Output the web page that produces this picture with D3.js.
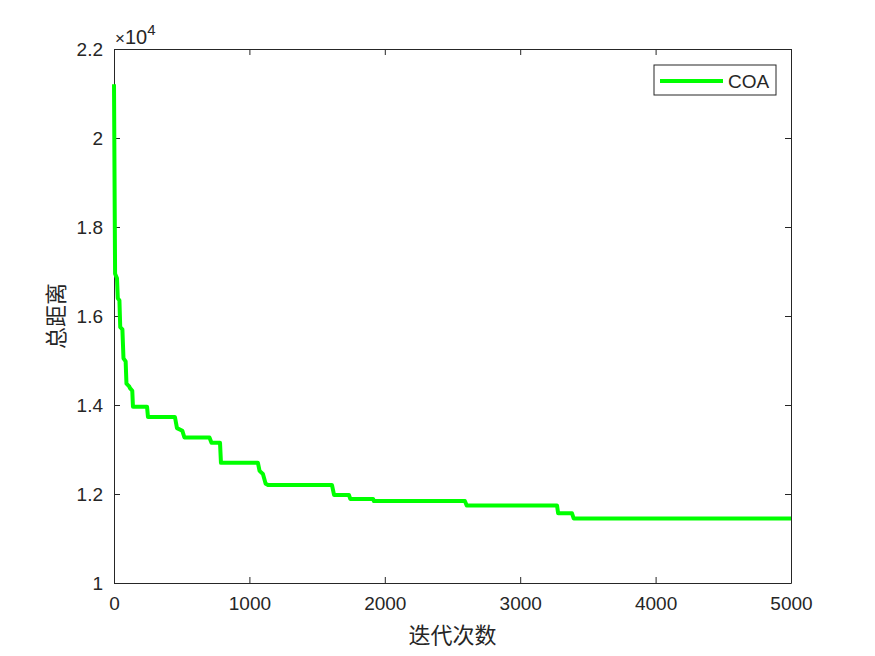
<!DOCTYPE html>
<html>
<head>
<meta charset="utf-8">
<script src="https://cdn.jsdelivr.net/npm/d3@7"></script>
<style>
  body { margin: 0; background: #fff; }
  svg text { font-family: "Liberation Sans", Arial, sans-serif; fill: #262626; }
  .cjk { font-family: "Noto Sans CJK SC", sans-serif; }
</style>
</head>
<body>
<div id="chart"></div>
<script>
// convergence curve (breakpoints of the steps)
const iterations = [0, 8, 22, 28, 40, 46, 62, 70, 86, 92, 112, 118, 135, 140, 244, 251, 450, 465, 505, 520,
  705, 720, 783, 790, 1063, 1075, 1100, 1120, 1140, 1610, 1625, 1735, 1745, 1913, 1920, 2592, 2605,
  3272, 3280, 3382, 3395, 5000];
const totalDistance = [21210, 16950, 16850, 16400, 16350, 15750, 15700, 15050, 14980, 14480, 14420, 14380, 14320, 13960, 13960, 13730, 13730, 13480, 13420, 13270,
  13270, 13150, 13150, 12700, 12700, 12520, 12450, 12230, 12200, 12200, 11980, 11980, 11890, 11890, 11840, 11840, 11740,
  11740, 11570, 11570, 11450, 11450];
const xTicks = [0, 1000, 2000, 3000, 4000, 5000];
const yTicks = [1, 1.2, 1.4, 1.6, 1.8, 2, 2.2];
const seriesName = "COA";

const width = 875, height = 656;
const plotL = 114, plotR = 791, plotT = 49, plotB = 583;

const svg = d3.select("#chart").append("svg")
    .attr("width", width)
    .attr("height", height);

const x = d3.scaleLinear().domain([0, 5000]).range([plotL, plotR]);
const y = d3.scaleLinear().domain([1, 2.2]).range([plotB, plotT]);

const points = iterations.map(function(it, i) {
    return { it: it, v: totalDistance[i] / 1e4 };
});

// axes, ticks pointing inwards like matlab
const xAxis = d3.axisBottom(x).tickValues(xTicks).tickSizeInner(-6).tickSizeOuter(0).tickPadding(14)
    .tickFormat(d3.format("d"));
const yAxis = d3.axisLeft(y).tickValues(yTicks).tickSizeInner(-6).tickSizeOuter(0).tickPadding(11)
    .tickFormat(d3.format("~g"));

const gx = svg.append("g").attr("transform", "translate(0," + plotB + ")").call(xAxis);
const gy = svg.append("g").attr("transform", "translate(" + plotL + ",0)").call(yAxis);
const gxTop = svg.append("g").attr("transform", "translate(0," + plotT + ")")
    .call(d3.axisTop(x).tickValues(xTicks).tickSizeInner(-6).tickSizeOuter(0).tickFormat(""));
const gyRight = svg.append("g").attr("transform", "translate(" + plotR + ",0)")
    .call(d3.axisRight(y).tickValues(yTicks).tickSizeInner(-6).tickSizeOuter(0).tickFormat(""));

[gx, gy, gxTop, gyRight].forEach(function(g) {
    g.select(".domain").attr("stroke", "#262626").attr("stroke-width", 1);
    g.selectAll(".tick line").attr("stroke", "#262626");
    g.selectAll(".tick text").style("font-size", "19px").attr("fill", "#262626");
});

// the curve
const line = d3.line()
    .x(function(d) { return x(d.it); })
    .y(function(d) { return y(d.v); });

svg.append("path")
    .datum(points)
    .attr("d", line)
    .attr("fill", "none")
    .attr("stroke", "#00ff00")
    .attr("stroke-width", 4)
    .attr("stroke-linejoin", "round");

// exponent
const expo = svg.append("text")
    .attr("x", plotL + 1)
    .attr("y", plotT - 5)
    .style("font-size", "20px");
expo.append("tspan").style("font-size", "17px").text("\u00d7");
expo.append("tspan").text("10");
expo.append("tspan").attr("dy", -9).style("font-size", "15px").text("4");

// labels
svg.append("text")
    .attr("class", "cjk")
    .attr("x", (plotL + plotR) / 2)
    .attr("y", 643)
    .attr("text-anchor", "middle")
    .style("font-size", "22px")
    .text("迭代次数");

svg.append("text")
    .attr("class", "cjk")
    .attr("transform", "translate(64," + ((plotT + plotB) / 2) + ") rotate(-90)")
    .attr("text-anchor", "middle")
    .style("font-size", "22px")
    .text("总距离");

// legend
const lg = svg.append("g");
lg.append("rect")
    .attr("x", 654).attr("y", 65)
    .attr("width", 122).attr("height", 30)
    .attr("fill", "#fff")
    .attr("stroke", "#262626")
    .attr("stroke-width", 1);
lg.append("line")
    .attr("x1", 660).attr("x2", 723)
    .attr("y1", 81).attr("y2", 81)
    .attr("stroke", "#00ff00")
    .attr("stroke-width", 4);
lg.append("text")
    .attr("x", 728).attr("y", 88)
    .style("font-size", "19px")
    .attr("fill", "#000")
    .text(seriesName);
</script>
</body>
</html>
